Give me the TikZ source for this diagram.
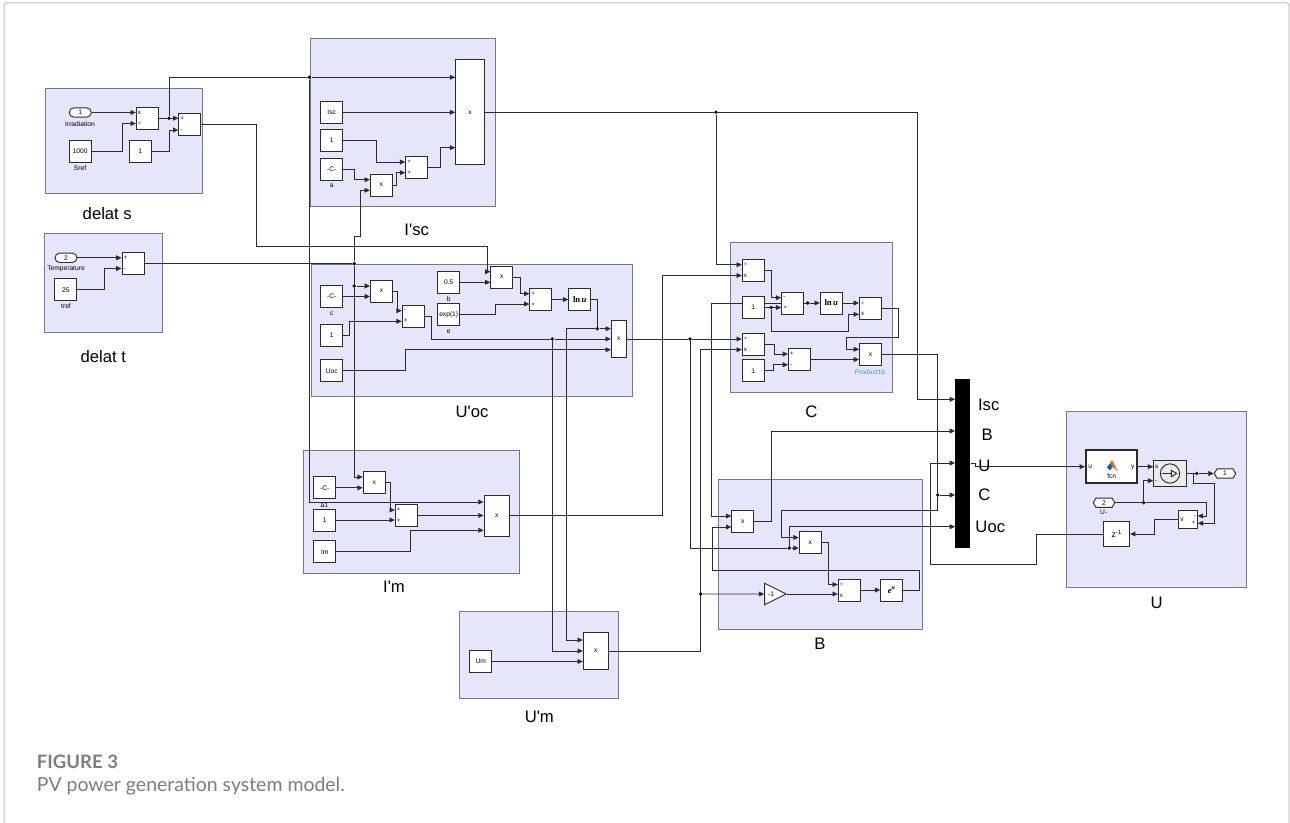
\documentclass[tikz,border=0pt]{standalone}
\usepackage{fontspec}
\setmainfont{Liberation Sans}
\newfontfamily\serfont{Liberation Serif}
\newfontfamily\capfont{Lato}
\usetikzlibrary{arrows.meta,shapes.geometric,shapes.misc,shapes.symbols}

\definecolor{panelfill}{HTML}{E6E6FA}
\definecolor{panelline}{HTML}{77778A}
\definecolor{wirecol}{HTML}{2B2B2B}
\definecolor{framecol}{HTML}{CFCFCF}
\definecolor{capcol}{HTML}{7D7D7D}
\definecolor{namecol}{HTML}{19A5E6}

\pgfdeclarelayer{panellayer}
\pgfdeclarelayer{wirelayer}
\pgfsetlayers{panellayer,wirelayer,main}

\tikzset{
  boxsize/.style 2 args={minimum width=#1*.75pt,minimum height=#2*.75pt},
  panelbox/.style={draw=panelline,fill=panelfill,line width=.7pt,inner sep=0},
  paneltext/.style={font=\fontsize{12.5}{14}\selectfont,inner sep=0},
  blockbox/.style={draw=wirecol,fill=white,line width=.7pt,inner sep=0,boxsize={22}{22},font=\fontsize{5}{6}\selectfont},
  bigbox/.style 2 args={blockbox,boxsize={#1}{#2}},
  signbox/.style={blockbox,align=left,text width=14pt,font=\fontsize{4.6}{8}\selectfont},
  inbox/.style={blockbox,rounded rectangle,boxsize={22}{9.4}},
  hexbox/.style={blockbox,signal,signal to=east and west,signal pointer angle=120,boxsize={21.4}{9.3}},
  tag/.style={inner sep=0,font=\fontsize{5}{6}\selectfont},
  junc/.style={circle,fill=black,inner sep=0,minimum size=2.9pt},
  line/.style={draw=wirecol,line width=.7pt},
  wire/.style={line,-{Triangle[length=4pt,width=3.6pt]}},
}

\begin{document}
\begin{tikzpicture}[x=.75pt,y=-.75pt]
    \useasboundingbox (0,0) rectangle (1290,822);
    \draw[framecol,line width=1pt,rounded corners=2pt] (4.3,823) -- (4.3,2.7) -- (1289,2.7) -- (1289,823);

    \begin{pgfonlayer}{panellayer}
    \node[panelbox,boxsize={156.6}{105.4}] (Ppanel) at (124,141) {};
    \node[panelbox,boxsize={118}{98.7}] (Tpanel) at (103.3,282.7) {};
    \node[panelbox,boxsize={185}{168}] (Ipanel) at (402.5,122.3) {};
    \node[panelbox,boxsize={321}{131.7}] (Opanel) at (472.2,330.8) {};
    \node[panelbox,boxsize={161.6}{150.4}] (Cpanel) at (811.5,317.5) {};
    \node[panelbox,boxsize={203.6}{150.3}] (Bpanel) at (820.5,554.8) {};
    \node[panelbox,boxsize={180}{176}] (Upanel) at (1156,499.7) {};
    \node[panelbox,boxsize={216.4}{123.3}] (Mpanel) at (411.5,511.7) {};
    \node[panelbox,boxsize={159.4}{87}] (Npanel) at (539,654.8) {};
    \end{pgfonlayer}

    \node[paneltext] (Plabel) at (107.3,214) {delat s};
    \node[paneltext] (Tlabel) at (103.3,356.7) {delat t};
    \node[paneltext] (Ilabel) at (416.7,230) {I\textquotesingle sc};
    \node[paneltext] (Olabel) at (472,412) {U\textquotesingle oc};
    \node[paneltext] (Clabel) at (811.3,412) {C};
    \node[paneltext] (Blabel) at (820,643.3) {B};
    \node[paneltext] (Ulabel) at (1156.7,602.7) {U};
    \node[paneltext] (Mlabel) at (394,587) {I\textquotesingle m};
    \node[paneltext] (Nlabel) at (539.3,716.7) {U\textquotesingle m};

    \node[inbox] (Sin) at (80.3,112.5) {1};
    \node[tag] (Sinname) at (80,123.7) {Irradiation};
    \node[blockbox] (Sc) at (80.2,151.5) {1000};
    \node[tag] (Scname) at (80,167.7) {Sref};
    \node[blockbox] (Sone) at (140.3,151.5) {1};
    \node[signbox] (Sprod) at (147.3,118.2) {x\\÷};
    \node[signbox] (Ssub) at (189.8,124.5) {+\\-};
    \node[junc] (Sj) at (169,118.2) {};

    \node[inbox] (Tin) at (66,257.8) {2};
    \node[tag] (Tinname) at (66,269) {Temperature};
    \node[blockbox] (Tc) at (65.8,289.7) {25};
    \node[tag] (Tcname) at (66,306) {tref};
    \node[signbox] (Tsub) at (133,263.5) {+\\-};
    \node[junc] (Tj) at (354.3,263.5) {};

    \node[bigbox={28.6}{105.3}] (Ibig) at (470,112.3) {x};
    \node[blockbox] (Iisc) at (331.7,112.3) {Isc};
    \node[blockbox] (Ione) at (331.7,140.7) {1};
    \node[blockbox] (Ic) at (331.7,169) {-C-};
    \node[tag] (Icname) at (331.7,186) {a};
    \node[blockbox] (Iprod) at (381.3,185) {x};
    \node[signbox] (Isum) at (416.7,167.2) {+\\+};
    \node[junc] (Ij) at (309.3,77.3) {};
    \node[junc] (Cj) at (716,112.3) {};

    \node[blockbox] (Oc) at (331.7,296.5) {-C-};
    \node[tag] (Ocname) at (331.7,314) {c};
    \node[blockbox] (Oone) at (331.7,335.5) {1};
    \node[blockbox] (Ouoc) at (331.7,370.8) {Uoc};
    \node[blockbox] (Oprod) at (381.5,291) {x};
    \node[signbox] (Osub) at (413.2,316) {-\\+};
    \node[blockbox] (Ob) at (448.7,282.3) {0.5};
    \node[tag] (Obname) at (448.7,299.3) {b};
    \node[blockbox] (Oexp) at (448.7,314.3) {exp(1)};
    \node[tag] (Oename) at (448.7,331.7) {e};
    \node[blockbox] (Otop) at (501.8,277) {x};
    \node[signbox] (Osum) at (540.8,299.5) {+\\+};
    \node[blockbox,font=\serfont\bfseries\fontsize{6.5}{8}\selectfont] (Oln) at (579.8,299.5) {ln\,\textit{u}};
    \node[bigbox={15}{37.7}] (Obig) at (618.8,339) {x};
    \node[junc] (Oj) at (354.3,286) {};
    \node[junc] (Oj2) at (552.3,339) {};
    \node[junc] (Oj3) at (597.3,328.7) {};
    \node[junc] (Fj) at (690,339) {};

    \node[blockbox] (Mc) at (324.7,487.8) {-C-};
    \node[tag] (Mcname) at (324.3,505) {a1};
    \node[blockbox] (Mone) at (324.7,520) {1};
    \node[blockbox] (Mim) at (324.7,551.8) {Im};
    \node[blockbox] (Mprod) at (374.2,482.5) {x};
    \node[signbox] (Msum) at (406.3,515.5) {+\\+};
    \node[bigbox={25.3}{41}] (Mbig) at (496.7,515.5) {x};

    \node[blockbox] (Num) at (480.7,661.5) {Um};
    \node[bigbox={25}{37.4}] (Nbig) at (595.8,651) {x};
    \node[junc] (Gj) at (700.7,594) {};

    \node[signbox] (Cprod) at (753.3,270) {÷\\x};
    \node[blockbox] (Cone) at (753.3,307.5) {1};
    \node[signbox] (Csub) at (792.7,303) {-\\+};
    \node[blockbox,font=\serfont\bfseries\fontsize{6.5}{8}\selectfont] (Cln) at (831.3,303) {ln\,\textit{u}};
    \node[signbox] (Ctop) at (870.5,308.8) {÷\\x};
    \node[signbox] (Clow) at (753.3,344.3) {÷\\x};
    \node[blockbox] (Ctwo) at (753.3,370.8) {1};
    \node[signbox] (Cdif) at (799.5,359.5) {+\\-};
    \node[blockbox] (Cend) at (870.5,354.8) {x};
    \node[tag,text=namecol] (Cendname) at (870,371.7) {Product16};
    \node[junc] (Cj2) at (771.3,307.5) {};
    \node[junc] (Cj3) at (807.7,303) {};

    \node[blockbox] (Bone) at (742.8,521.7) {x};
    \node[blockbox] (Btwo) at (810.2,542.8) {x};
    \node[blockbox,isosceles triangle,isosceles triangle stretches,boxsize={21.4}{21.4}] (Bgain) at (771,594) {-1};
    \node[signbox] (Bsub) at (849.3,590) {÷\\x};
    \node[blockbox,font=\serfont\itshape\bfseries\fontsize{6.5}{8}\selectfont] (Bexp) at (891.7,590) {e\textsuperscript{u}};
    \node[junc] (Bj) at (789.3,548) {};
    \node[junc] (Bj2) at (937.7,495) {};

    \node[fill=black,inner sep=0,boxsize={15}{169.3}] (Bus) at (962.8,463.4) {};
    \node[paneltext] (Busa) at (988.7,405) {Isc};
    \node[paneltext] (Busb) at (987.3,434.3) {B};
    \node[paneltext] (Busc) at (984.3,465.7) {U};
    \node[paneltext] (Busd) at (984.3,494.3) {C};
    \node[paneltext] (Buse) at (990.3,526.7) {Uoc};

    \node[blockbox,line width=1.5pt,boxsize={50.7}{33.3}] (Ufcn) at (1111.3,466.7) {};
    \node[tag] (Ufcnu) at (1090.3,467) {u};
    \node[tag] (Ufcny) at (1132.7,467) {y};
    \node[tag] (Ufcnn) at (1111.7,476) {fcn};
    \fill[orange!80!red] (1107,467.5) -- (1112,460) -- (1117.5,471) -- (1113,467) -- (1110,470) -- cycle;
    \fill[blue!55!cyan!80!black] (1107,467.5) -- (1110.5,463.5) -- (1112,467) -- (1110,470) -- cycle;
    \node[signbox,fill=black!8,boxsize={32.6}{26.4},text width=22.4pt,font=\fontsize{4.6}{10.5}\selectfont] (Usrc) at (1170,473.5) {s\\-};
    \node[circle,draw=wirecol,line width=.7pt,inner sep=0,minimum size=14.5pt] (Ucirc) at (1170,473.5) {};
    \draw[line,-{Triangle[open,length=5pt,width=6pt]}] (1162,473.5) -- (1177.5,473.5);
    \node[hexbox] (Uout) at (1225,473.5) {1};
    \node[hexbox] (Uin) at (1104,502.7) {2};
    \node[tag,text=blue!40!black] (Uinname) at (1103.7,512.7) {U-};
    \node[blockbox,boxsize={18.6}{17.7},align=left,text width=11.5pt] (Uprod) at (1188,519.8) {v};
    \node[tag,align=right,font=\fontsize{4.6}{5.5}\selectfont] (Uprods) at (1194,519.8) {-\\+};
    \node[blockbox,boxsize={25.7}{24.6},font=\fontsize{6.5}{8}\selectfont] (Uz) at (1116.8,534) {z\textsuperscript{-1}};
    \node[junc] (Uj1) at (1196.7,473.5) {};
    \node[junc] (Uj2) at (1143.7,502.7) {};
    \coordinate (Ub) at (1193.3,473.5);

    \node[anchor=west,inner sep=0,text=capcol,font=\capfont\bfseries\fontsize{13.9}{15}\selectfont] (Capa) at (36.7,761.7) {FIGURE 3};
    \node[anchor=west,inner sep=0,text=capcol,font=\capfont\fontsize{14.6}{16}\selectfont] (Capb) at (36.7,786) {PV power generation system model.};

    \begin{pgfonlayer}{wirelayer}
    \draw[wire] (Sin.east) -- (Sprod.west |- Sin.east);
    \draw[wire] (Sc.east) -| (122.7,123.5) -- (Sprod.west |- 0,123.5);
    \draw[line] (Sprod.east) -- (Sj);
    \draw[wire] (Sj) -- (Ssub.west |- Sj);
    \draw[wire] (Sone.east) -| (169.3,130) -- (Ssub.west |- 0,130);
    \draw[line] (Sj) |- (Ij);
    \draw[wire] (Ij) -- (Ibig.west |- Ij);
    \draw[wire] (Ij) |- (Mbig.west |- 0,502);
    \draw[wire] (Ssub.east) -| (256.7,246.7) -- (487,246.7) |- (Otop.west |- 0,271.7);

    \draw[wire] (Tin.east) -- (Tsub.west |- Tin.east);
    \draw[wire] (Tc.east) -| (104,268.5) -- (Tsub.west |- 0,268.5);
    \draw[line] (Tsub.east) -- (Tj);
    \draw[wire] (Tj) -- (354.3,236) -- (360.7,236) -- (360.7,190.3) -- (Iprod.west |- 0,190.3);
    \draw[line] (Tj) -- (Oj);
    \draw[wire] (Oj) -- (Oprod.west |- Oj);
    \draw[wire] (Oj) |- (Mprod.west |- 0,477);

    \draw[wire] (Iisc.east) -- (Ibig.west |- Iisc.east);
    \draw[wire] (Ione.east) -| (376.7,162) -- (Isum.west |- 0,162);
    \draw[wire] (Ic.east) -| (354,179.7) -- (Iprod.west |- 0,179.7);
    \draw[wire] (Iprod.east) -| (396,172.7) -- (Isum.west |- 0,172.7);
    \draw[wire] (Isum.east) -| (440.7,147.7) -- (Ibig.west |- 0,147.7);
    \draw[line] (Ibig.east) -- (Cj);
    \draw[wire] (Cj) -| (917.7,399.3) -- (Bus.west |- 0,399.3);
    \draw[wire] (Cj) |- (Cprod.west |- 0,264.7);

    \draw[wire] (Oc.east) -- (Oprod.west |- Oc.east);
    \draw[wire] (Oprod.east) -| (397.3,310.7) -- (Osub.west |- 0,310.7);
    \draw[wire] (Oone.east) -| (349.3,321.3) -- (Osub.west |- 0,321.3);
    \draw[line] (Osub.east) -| (431,339) -- (Oj2);
    \draw[wire] (Oj2) -- (Obig.west |- Oj2);
    \draw[wire] (Oj2) |- (Nbig.west |- 0,651);
    \draw[wire] (Ob.east) -- (Otop.west |- Ob.east);
    \draw[wire] (Oexp.east) -| (495.7,304) -- (Osum.west |- 0,304);
    \draw[wire] (Otop.east) -| (520,293.7) -- (Osum.west |- 0,293.7);
    \draw[wire] (Osum.east) -- (Oln.west |- Osum.east);
    \draw[line] (Oln.east) -| (Oj3);
    \draw[wire] (Oj3) -- (Obig.west |- Oj3);
    \draw[wire] (Oj3) -- (566.3,328.7) |- (Nbig.west |- 0,640);
    \draw[wire] (Ouoc.east) -| (405,349.7) -- (Obig.west |- 0,349.7);
    \draw[line] (Obig.east) -- (Fj);
    \draw[wire] (Fj) -- (Clow.west |- Fj);
    \draw[line] (Fj) |- (Bj);
    \draw[wire] (Bj) -- (Btwo.west |- Bj);
    \draw[wire] (Bj) |- (Bus.west |- 0,526.7);

    \draw[wire] (Mc.east) -- (Mprod.west |- Mc.east);
    \draw[wire] (Mprod.east) -| (390.7,510) -- (Msum.west |- 0,510);
    \draw[wire] (Mone.east) -- (Msum.west |- Mone.east);
    \draw[wire] (Msum.east) -- (Mbig.west |- Msum.east);
    \draw[wire] (Mim.east) -| (410.3,530.3) -- (Mbig.west |- 0,530.3);
    \draw[wire] (Mbig.east) -| (662,275.5) -- (Cprod.west |- 0,275.5);

    \draw[wire] (Num.east) -- (Nbig.west |- Num.east);
    \draw[wire] (Nbig.east) -| (700.7,349.7) -- (Clow.west |- 0,349.7);
    \draw[wire] (Gj) -- (Bgain.west);

    \draw[wire] (Cprod.east) -| (771.3,297.7) -- (Csub.west |- 0,297.7);
    \draw[wire] (Cone.east) -- (Csub.west |- Cone.east);
    \draw[wire] (Cj2) -- (771.3,331) -| (848,314.3) -- (Ctop.west |- 0,314.3);
    \draw[line] (Csub.east) -- (Cj3);
    \draw[wire] (Cj3) -- (Cln.west |- Cj3);
    \draw[wire] (Cj3) -- (711,303) |- (Bone.west |- 0,516);
    \draw[wire] (Cln.east) -- (Ctop.west |- Cln.east);
    \draw[wire] (Ctop.east) -| (898.3,337.7) -| (846,349.3) -- (Cend.west |- 0,349.3);
    \draw[wire] (Clow.east) -| (774,354) -- (Cdif.west |- 0,354);
    \draw[wire] (Ctwo.east) -| (773.3,364.7) -- (Cdif.west |- 0,364.7);
    \draw[wire] (Cdif.east) -- (Cend.west |- Cdif.east);
    \draw[line] (Cend.east) -| (Bj2);
    \draw[wire] (Bj2) -- (Bus.west |- Bj2);
    \draw[wire] (Bj2) -- (937.7,510.7) -| (781,537.5) -- (Btwo.west |- 0,537.5);

    \draw[wire] (Bone.east) -| (771.3,431) -- (Bus.west |- 0,431);
    \draw[wire] (Btwo.east) -| (828.3,584.5) -- (Bsub.west |- 0,584.5);
    \draw[wire] (Bgain.east) -- (Bsub.west |- Bgain.east);
    \draw[wire] (Bsub.east) -- (Bexp.west |- Bsub.east);
    \draw[wire] (Bexp.east) -| (919.3,570.7) -| (712.7,527) -- (Bone.west |- 0,527);

    \draw[wire] (Bus.east |- 0,463.3) -- (975,463.3) |- (Ufcn.west);
    \draw[wire] (Uz.west) -| (1036.7,564.3) -| (930,463) -- (Bus.west |- 0,463);
    \draw[wire] (Ufcn.east) -- (Usrc.west |- Ufcn.east);
    \draw[line] (Usrc.east) -- (Uj1);
    \draw[wire] (Uj1) -- (Uout.west);
    \draw[line] (Uin.east) -- (Uj2);
    \draw[wire] (Uj2) |- (Usrc.west |- 0,480.7);
    \draw[wire] (Uj2) -- (1206.7,502.7) |- (Uprod.east |- 0,516);
    \draw[wire] (Ub) |- (1214,483.3) |- (Uprod.east |- 0,523.3);
    \draw[wire] (Uprod.west) -| (1154,534) -- (Uz.east);
    \end{pgfonlayer}
  \end{tikzpicture}
\end{document}
